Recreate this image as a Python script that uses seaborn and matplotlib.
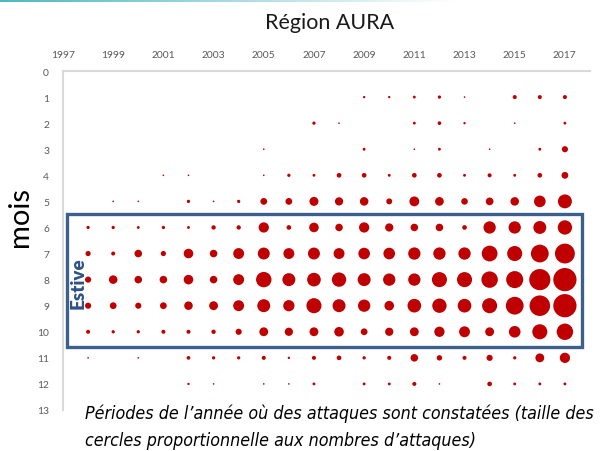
import numpy as np
import pandas as pd
import matplotlib
matplotlib.use("Agg")
import matplotlib.pyplot as plt
import seaborn as sns
from matplotlib.patches import Rectangle
from matplotlib import font_manager
from matplotlib.colors import LinearSegmentedColormap

# ---------------- data ----------------
annees = list(range(1998, 2018))
mois_labels = list(range(0, 14))
xticks_annees = list(range(1997, 2018, 2))

# attacks per month, columns = 1998 ... 2017
janvier   = [0, 0, 0, 0, 0, 0, 0, 0, 0, 0, 0, 2, 2, 3, 4, 1, 0, 6, 6, 6]
fevrier   = [0, 0, 0, 0, 0, 0, 0, 0, 0, 4, 1, 0, 0, 3, 5, 2, 0, 1, 0, 3]
mars      = [0, 0, 0, 0, 0, 0, 0, 1, 0, 0, 0, 3, 0, 1, 3, 0, 1, 0, 3, 14]
avril     = [0, 0, 0, 1, 1, 0, 0, 1, 4, 3, 8, 8, 3, 8, 8, 3, 6, 3, 8, 17]
mai       = [0, 1, 1, 0, 4, 1, 4, 17, 17, 30, 25, 27, 13, 36, 28, 16, 22, 27, 50, 72]
juin      = [4, 4, 3, 4, 3, 7, 7, 39, 8, 34, 21, 39, 25, 21, 21, 8, 56, 56, 62, 76]
juillet   = [10, 6, 21, 10, 34, 21, 44, 53, 44, 53, 44, 50, 50, 56, 56, 56, 92, 84, 117, 146]
aout      = [14, 27, 21, 21, 34, 21, 44, 88, 62, 69, 76, 62, 56, 56, 84, 84, 100, 108, 166, 200]
septembre = [14, 17, 14, 17, 27, 29, 44, 62, 47, 84, 62, 56, 34, 69, 76, 69, 84, 117, 156, 200]
octobre   = [6, 4, 4, 6, 6, 7, 14, 29, 25, 29, 34, 17, 25, 29, 39, 44, 29, 50, 84, 100]
novembre  = [1, 0, 1, 0, 5, 4, 4, 6, 2, 6, 8, 4, 6, 21, 11, 6, 14, 4, 29, 39]
decembre  = [0, 0, 0, 0, 2, 1, 0, 1, 1, 3, 0, 3, 3, 6, 1, 0, 8, 3, 3, 3]

series = {1: janvier, 2: fevrier, 3: mars, 4: avril, 5: mai, 6: juin,
          7: juillet, 8: aout, 9: septembre, 10: octobre, 11: novembre, 12: decembre}

rows = []
for m, vals in series.items():
    for a, v in zip(annees, vals):
        if v > 0:
            rows.append({"annee": a, "mois": m, "attaques": v})
df = pd.DataFrame(rows)

# ---------------- fonts ----------------
def find_condensed_italic():
    cands = []
    for f in font_manager.fontManager.ttflist:
        st = str(f.stretch).lower()
        cond = st in ("condensed", "semi-condensed", "extra-condensed") or \
            (isinstance(f.stretch, (int, float)) and f.stretch < 500) or \
            "condensed" in f.name.lower() or "narrow" in f.name.lower() or \
            "condensed" in f.fname.lower() or "narrow" in f.fname.lower()
        if cond and f.style in ("italic", "oblique") and f.weight in (400, "normal", "regular", 500):
            cands.append(f.fname)
    return cands[0] if cands else None

cap_font = find_condensed_italic()

# ---------------- figure ----------------
sns.set_theme(style="white")
plt.rcParams["font.family"] = ["Lato", "DejaVu Sans"]

fig = plt.figure(figsize=(6.08, 4.52), dpi=100)
ax = fig.add_axes([63 / 608, 41 / 452, 527 / 608, 339 / 452])

sns.scatterplot(data=df, x="annee", y="mois", size="attaques",
                sizes=(0, 280), size_norm=(0, 200), color="#C00000",
                linewidth=0, legend=False, ax=ax, zorder=3)

ax.set_xlim(1997, 2018)
ax.set_ylim(13, 0)
ax.set_xticks(xticks_annees)
ax.set_xticklabels([str(a) for a in xticks_annees])
ax.set_yticks(mois_labels)
ax.set_yticklabels([str(m) for m in mois_labels])
ax.xaxis.tick_top()
ax.tick_params(axis="both", length=0, labelsize=7.4, colors="#595959")
ax.tick_params(axis="x", pad=9)
ax.tick_params(axis="y", pad=10)
ax.set_xlabel("")
ax.set_ylabel("mois", fontsize=21, color="black")
ax.yaxis.set_label_coords(-0.057, 0.572)

for s in ["bottom", "right"]:
    ax.spines[s].set_visible(False)
for s in ["top", "left"]:
    ax.spines[s].set_color("#D9D9D9")
    ax.spines[s].set_linewidth(1.5)
ax.grid(False)

# summer box
rect = Rectangle((1997.16, 5.48), 20.54, 5.09, fill=False,
                 edgecolor="#3C5F8C", linewidth=2.4, zorder=4, clip_on=False)
ax.add_patch(rect)
ax.text(1997.6, 8.08, "Estive", rotation=90, ha="center", va="center",
        fontsize=13.5, fontweight="heavy", color="#2F5285", zorder=5)

# title
fig.text(330 / 608, 1 - 23 / 452, "Région AURA", ha="center", va="center",
         fontsize=15.5, color="#1A1A1A")

# top decorative gradient line
gax = fig.add_axes([0, 1 - 3 / 452, 0.75, 3 / 452])
grad = np.linspace(0, 1, 256).reshape(1, -1)
cm = LinearSegmentedColormap.from_list("g", ["#4FB7C2", "#FFFFFF"])
gax.imshow(grad, aspect="auto", cmap=cm)
gax.axis("off")

# caption
if cap_font:
    fp = font_manager.FontProperties(fname=cap_font, size=14)
else:
    fp = font_manager.FontProperties(family="DejaVu Sans", style="italic", size=14)

t1 = fig.text(85 / 608, 1 - 419 / 452,
              "Périodes de l’année où des attaques sont constatées (taille des",
              fontproperties=fp, color="black", va="baseline", ha="left")
t2 = fig.text(85 / 608, 1 - 446 / 452,
              "cercles proportionnelle aux nombres d’attaques)",
              fontproperties=fp, color="black", va="baseline", ha="left")

# fit caption line 1 to the reference width (~508 px)
fig.canvas.draw()
r = fig.canvas.get_renderer()
w = t1.get_window_extent(r).width
size = 14 * 508 / w
fp.set_size(size)
t1.set_fontproperties(fp)
t2.set_fontproperties(fp)

fig.savefig("out.png", dpi=100)
